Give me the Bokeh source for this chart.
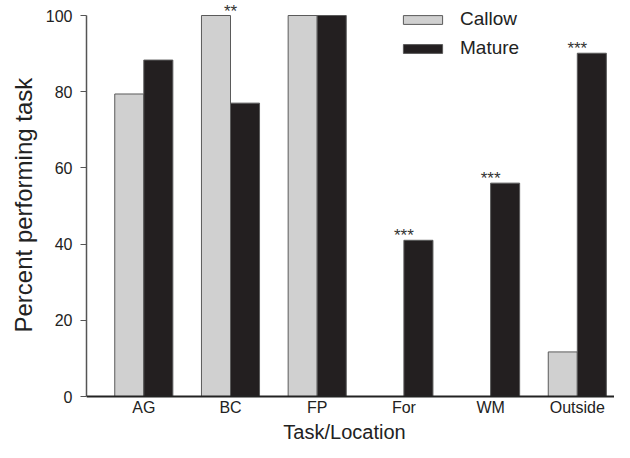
from bokeh.plotting import figure
from bokeh.models import (Range1d, FixedTicker, ColumnDataSource, LabelSet, Label, Legend,
                          LegendItem, Span, Title)
from bokeh.core.properties import value
from bokeh.embed import file_html
from bokeh.resources import INLINE

categories = ["AG", "BC", "FP", "For", "WM", "Outside"]
callow = [79.4, 100, 100, 0, 0, 11.7]
mature = [88.3, 77.0, 100, 41.0, 56.0, 90.1]
signif = ["", "**", "", "***", "***", "***"]
y_ticks = [0, 20, 40, 60, 80, 100]

FONT = "Liberation Sans"
TXT = "#222222"
bw = 0.335
xs = list(range(len(categories)))

W, H = 614, 442
LEFT = 86
X0PX, XUNIT = 143.3, 86.7      # pixel of first category centre, pixels per category
Y0PX, YUNIT = 396.0, 3.81      # pixel of value 0, pixels per percent


def px2x(px):
    return (px - X0PX) / XUNIT


def px2y(py):
    return (Y0PX - py) / YUNIT


p = figure(width=W, height=H, output_backend="svg", toolbar_location=None,
           x_range=Range1d(px2x(LEFT), px2x(W)), y_range=Range1d(px2y(H), px2y(0)),
           min_border_left=LEFT, min_border_right=0, min_border_top=0, min_border_bottom=0)
p.outline_line_color = None
p.grid.visible = False
p.background_fill_color = "white"
p.border_fill_color = "white"

src = ColumnDataSource(dict(
    xc=[x - bw / 2 for x in xs], xm=[x + bw / 2 for x in xs],
    callow=callow, mature=mature))
r1 = p.vbar(x="xc", top="callow", width=bw, source=src,
            fill_color="#d0d0d0", line_color="#5a5a5a", line_width=1)
r2 = p.vbar(x="xm", top="mature", width=bw, source=src,
            fill_color="#231f20", line_color="#5a5a5a", line_width=1)

# x axis line at 0
p.add_layout(Span(location=0, dimension="width", line_color=TXT, line_width=2))

# significance stars
lab_src = ColumnDataSource(dict(x=xs, y=[max(a, b) for a, b in zip(callow, mature)], t=signif))
p.add_layout(LabelSet(x="x", y="y", text="t", source=lab_src, text_align="center",
                      text_baseline="alphabetic", text_font=value(FONT),
                      text_font_size=value("17px"), text_color="#333333", y_offset=-1))

# category labels under the axis line
cat_src = ColumnDataSource(dict(x=xs, y=[0] * len(xs), t=categories))
p.add_layout(LabelSet(x="x", y="y", text="t", source=cat_src, text_align="center",
                      text_baseline="middle", text_font=value(FONT),
                      text_font_size=value("16px"), text_color=TXT, y_offset=-11))

# x axis title
p.add_layout(Label(x=px2x(344), y=px2y(431), text="Task/Location", text_align="center",
                   text_baseline="middle", text_font=FONT, text_font_size="20px",
                   text_color=TXT))

p.xaxis.visible = False

p.yaxis.bounds = (0, 100)
p.yaxis.ticker = FixedTicker(ticks=y_ticks)
p.yaxis.minor_tick_line_color = None
p.yaxis.major_tick_in = 0
p.yaxis.major_tick_out = 6
p.yaxis.major_tick_line_color = "#555555"
p.yaxis.axis_line_color = "#555555"
p.yaxis.axis_line_width = 1.5
p.yaxis.major_label_text_font = FONT
p.yaxis.major_label_text_font_size = "16px"
p.yaxis.major_label_text_color = TXT
p.yaxis.major_label_standoff = 8

ytitle = Title(text="Percent performing task", align="left", offset=110,
               text_font=FONT, text_font_size="24px", text_font_style="normal",
               text_color=TXT, standoff=12)
p.add_layout(ytitle, "left")

legend = Legend(items=[LegendItem(label="Callow", renderers=[r1]),
                       LegendItem(label="Mature", renderers=[r2])],
                location=(312, 383), glyph_width=49, glyph_height=11,
                label_height=20, spacing=7, padding=0, margin=0,
                label_standoff=13, label_text_font=FONT, label_text_font_size="19px",
                label_text_color=TXT, border_line_color=None,
                background_fill_alpha=0)
p.add_layout(legend)

open("out.html", "w").write(file_html(p, INLINE))
